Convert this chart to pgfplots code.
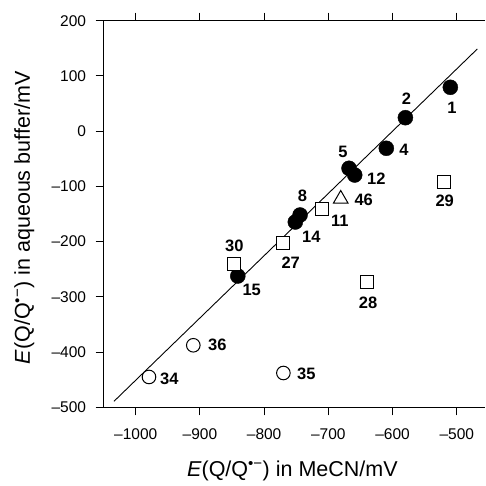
\documentclass[border=0pt]{standalone}
\usepackage{pgfplots}
\pgfplotsset{compat=1.18}
\usepackage{fontspec}
\setmainfont{Liberation Sans}
\newcommand{\lbl}{\fontsize{16.5}{18}\selectfont\bfseries}
\begin{document}
\begin{tikzpicture}
\begin{axis}[
  scale only axis,
  width=381.4pt, height=386.6pt,
  xmin=-1050, xmax=-456, ymin=-500, ymax=200,
  axis x line=box, axis y line=left,
  x axis line style={-, line width=1.1pt},
  y axis line style={-, line width=1.1pt},
  tick align=outside,
  major tick length=8pt,
  tick style={line width=0.9pt, black},
  xtick={-1000,-900,-800,-700,-600,-500},
  xticklabels={\textendash1000,\textendash900,\textendash800,\textendash700,\textendash600,\textendash500},
  ytick={-500,-400,-300,-200,-100,0,100,200},
  yticklabels={\textendash500,\textendash400,\textendash300,\textendash200,\textendash100,0,100,200},
  ticklabel style={font=\fontsize{15.5}{17}\selectfont},
  xticklabel style={yshift=-10pt},
  yticklabel style={xshift=-6pt},
  xlabel={\textit{E}(Q/Q\textsuperscript{•−}) in MeCN/mV},
  ylabel={\textit{E}(Q/Q\textsuperscript{•−}) in aqueous buffer/mV},
  label style={font=\fontsize{21.5}{24}\selectfont},
  xlabel style={at={(axis description cs:0.495,-0.178)}, anchor=base},
  ylabel style={at={(axis description cs:-0.208,0.49)}, anchor=center},
  clip=false,
]
\coordinate (O) at (rel axis cs:0,0);
% regression line
\addplot[black, line width=0.9pt, no marks] coordinates {(-1033.8,-489.1) (-468,148.8)};
% filled circles
\addplot[only marks, mark=*, mark size=7.5pt, mark options={fill=black, draw=black}] coordinates {
(-510,79.4) (-580,24.4) (-609.7,-31) (-667.8,-67.2) (-658.9,-79.4)
(-744,-151.8) (-751.4,-164.5) (-841,-262.3)};
% open squares
\addplot[only marks, mark=square*, mark size=6.5pt, mark options={fill=white, draw=black, line width=1pt}] coordinates {
(-709.8,-140.4) (-519.3,-92.6) (-770,-203) (-639.7,-273.7) (-846.9,-240.5)};
% open triangle
\addplot[only marks, mark=triangle*, mark size=8.5pt, mark options={fill=white, draw=black, line width=1pt}] coordinates {
(-680.7,-122.8)};
% open circles
\addplot[only marks, mark=*, mark size=6.8pt, mark options={fill=white, draw=black, line width=1pt}] coordinates {
(-979.3,-445.1) (-910.3,-387.7) (-770,-437.9)};
% labels
\node[font=\lbl] at (axis cs:-507.3,41.4) {1};
\node[font=\lbl] at (axis cs:-578.5,59.5) {2};
\node[font=\lbl] at (axis cs:-582.1,-34.1) {4};
\node[font=\lbl] at (axis cs:-677.1,-37.2) {5};
\node[font=\lbl] at (axis cs:-625.2,-85.3) {12};
\node[font=\lbl] at (axis cs:-644.9,-124.6) {46};
\node[font=\lbl] at (axis cs:-682.2,-162.7) {11};
\node[font=\lbl] at (axis cs:-518.7,-126.5) {29};
\node[font=\lbl] at (axis cs:-740.2,-117.4) {8};
\node[font=\lbl] at (axis cs:-726.5,-192.2) {14};
\node[font=\lbl] at (axis cs:-846.4,-207.9) {30};
\node[font=\lbl] at (axis cs:-758.6,-238.2) {27};
\node[font=\lbl] at (axis cs:-819.3,-287.6) {15};
\node[font=\lbl] at (axis cs:-638.2,-311.1) {28};
\node[font=\lbl] at (axis cs:-734.3,-439.7) {35};
\node[font=\lbl] at (axis cs:-947.7,-448.7) {34};
\node[font=\lbl] at (axis cs:-872.9,-387.7) {36};
\end{axis}
\pgfresetboundingbox
\path (O) ++(-103.6pt,-78.7pt) rectangle ++(486pt,486pt);
\end{tikzpicture}
\end{document}
